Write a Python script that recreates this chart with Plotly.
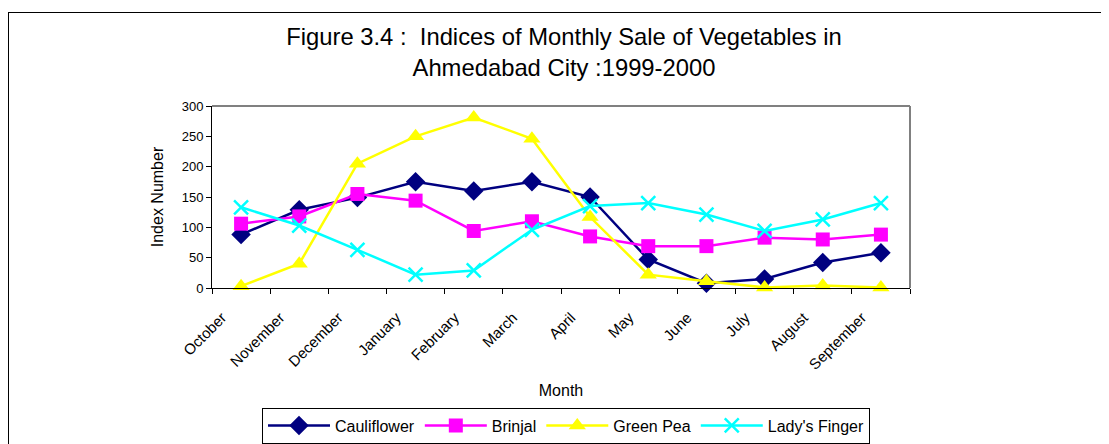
import plotly.graph_objects as go

months = ["October", "November", "December", "January", "February", "March",
          "April", "May", "June", "July", "August", "September"]
cauliflower = [88, 129, 149, 175, 160, 175, 150, 47, 8, 15, 42, 58]
brinjal = [106, 118, 155, 144, 94, 110, 85, 69, 69, 83, 80, 88]
green_pea = [3, 40, 205, 250, 281, 246, 117, 22, 11, 1, 4, 1]
ladys_finger = [133, 103, 63, 22, 29, 96, 135, 140, 121, 94, 113, 140]
y_ticks = [0, 50, 100, 150, 200, 250, 300]

series = [
    ("Cauliflower", cauliflower, "#000080", "diamond", 15),
    ("Brinjal", brinjal, "#FF00FF", "square", 14),
    ("Green Pea", green_pea, "#FFFF00", "triangle-up", 15),
    ("Lady's Finger", ladys_finger, "#00FFFF", "x-thin-open", 14),
]

FONT = "Liberation Sans, Arial, sans-serif"

fig = go.Figure()
for name, vals, col, sym, sz in series:
    marker = dict(symbol=sym, size=sz, color=col)
    if sym.startswith("x-thin"):
        marker["line"] = dict(color=col, width=2.5)
    fig.add_trace(go.Scatter(
        x=months, y=vals, name=name, mode="lines+markers",
        line=dict(color=col, width=2.5), marker=marker, cliponaxis=False,
    ))

OFF = 8  # page body margin
W, H = 1109 - OFF, 444 - OFF
L, R, T, B = 212 - OFF, 910 - OFF, 106 - OFF, 288 - OFF
pw, ph = R - L, B - T

def px(x):
    return (x - OFF - L) / pw

def py(y):
    return (B - (y - OFF)) / ph

fig.update_layout(
    width=W, height=H,
    margin=dict(l=L, r=W - R, t=T, b=H - B, pad=0, autoexpand=False),
    paper_bgcolor="white", plot_bgcolor="white",
    font=dict(family=FONT, color="black"),
    title=dict(
        text="Figure 3.4 :  Indices of Monthly Sale of Vegetables in<br>Ahmedabad City :1999-2000",
        x=(564 - OFF) / W, xanchor="center", y=1 - (45 - OFF) / H, yanchor="middle",
        font=dict(size=23.8, family=FONT, color="black"),
    ),
    xaxis=dict(
        range=[-0.5, len(months) - 0.5],
        showline=True, linecolor="black", linewidth=1,
        ticks="outside", ticklen=5, tickcolor="black", tickson="boundaries",
        tickangle=-45, tickfont=dict(size=15, family=FONT),
        ticklabelshift=-19, ticklabelstandoff=14,
        showgrid=False, zeroline=False,
        title=dict(text="Month", font=dict(size=16, family=FONT), standoff=12),
    ),
    yaxis=dict(
        range=[0, 300], tickvals=y_ticks,
        showline=True, linecolor="black", linewidth=1,
        ticks="outside", ticklen=5, tickcolor="black",
        tickfont=dict(size=13, family=FONT),
        showgrid=False, zeroline=False,
        title=dict(text="Index Number", font=dict(size=16, family=FONT), standoff=14),
    ),
    legend=dict(
        orientation="h", x=px(566), xanchor="center", y=py(425.5), yanchor="middle",
        bordercolor="black", borderwidth=1, bgcolor="white",
        font=dict(size=16, family=FONT), itemwidth=62,
        tracegroupgap=0,
    ),
    shapes=[
        dict(type="line", xref="paper", yref="paper", x0=0, x1=1, y0=1, y1=1,
             line=dict(color="#808080", width=2)),
        dict(type="line", xref="paper", yref="paper", x0=1, x1=1, y0=0, y1=1,
             line=dict(color="#808080", width=2)),
        dict(type="line", xref="paper", yref="paper", x0=px(8.5), x1=px(8.5), y0=py(12), y1=py(470),
             line=dict(color="black", width=1)),
        dict(type="line", xref="paper", yref="paper", x0=px(8), x1=px(1130), y0=py(12.5), y1=py(12.5),
             line=dict(color="black", width=1)),
    ],
)

fig.write_html("out.html")
